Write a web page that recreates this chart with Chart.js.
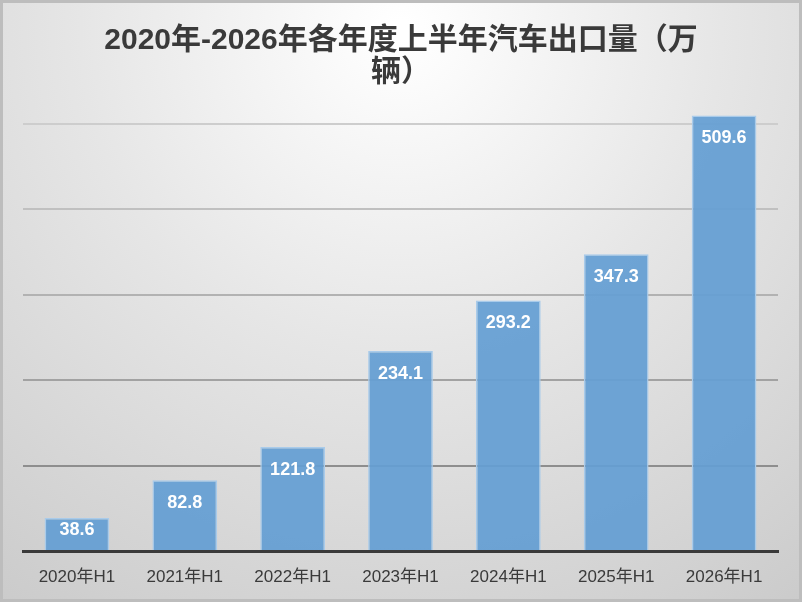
<!DOCTYPE html>
<html>
<head>
<meta charset="utf-8">
<script src="https://cdn.jsdelivr.net/npm/chart.js@4/dist/chart.umd.min.js"></script>
<style>
html,body{margin:0;padding:0;background:#fff;}
#wrap{width:802px;height:602px;}
</style>
</head>
<body>
<div id="wrap"><canvas id="ch" width="802" height="602"></canvas></div>
<script>
/* data */
const labels=['2020年H1','2021年H1','2022年H1','2023年H1','2024年H1','2025年H1','2026年H1'];
const values=[38.6,82.8,121.8,234.1,293.2,347.3,509.6];
const titleLines=['2020年-2026年各年度上半年汽车出口量（万','辆）'];

const FONT='"Liberation Sans","Noto Sans CJK SC",Arial,sans-serif';
const gridCols={100:'#8e8e8e',200:'#a2a2a2',300:'#b2b2b2',400:'#c0c0c0',500:'#cdcdcd'};

const bgPlugin={
    id:'bg',
    beforeDraw(chart){
        const {ctx,width,height}=chart;
        ctx.save();
        const g=ctx.createRadialGradient(width/2,30,10,width/2,30,700);
        g.addColorStop(0,'#ffffff');
        g.addColorStop(0.45,'#e6e6e6');
        g.addColorStop(1,'#cbcbcb');
        ctx.fillStyle=g;
        ctx.fillRect(0,0,width,height);
        ctx.strokeStyle='#bdbdbd';
        ctx.lineWidth=3;
        ctx.strokeRect(1.5,1.5,width-3,height-3);
        ctx.restore();
    },
    afterDraw(chart){
        const {ctx,width}=chart;
        ctx.save();
        ctx.fillStyle='#3a3a3a';
        ctx.font='bold 30px '+FONT;
        ctx.textAlign='center';
        ctx.textBaseline='middle';
        ctx.fillText(titleLines[0],width/2,41);
        ctx.fillText(titleLines[1],width/2,73);
        ctx.restore();
    }
};

const valPlugin={
    id:'vals',
    afterDatasetsDraw(chart){
        const {ctx}=chart;
        const meta=chart.getDatasetMeta(0);
        ctx.save();
        ctx.fillStyle='#ffffff';
        ctx.font='bold 18px '+FONT;
        ctx.textAlign='center';
        ctx.textBaseline='middle';
        meta.data.forEach((bar,i)=>{
            const h=bar.base-bar.y;
            ctx.fillText(values[i].toFixed(1),bar.x,bar.y+Math.min(23,h*0.37));
        });
        ctx.restore();
    }
};

new Chart(document.getElementById('ch').getContext('2d'),{
    type:'bar',
    data:{labels,datasets:[{
        data:values,
        backgroundColor:'rgba(100,158,211,0.93)',
        borderColor:'#a9cbea',
        borderWidth:1.5,
        barPercentage:0.6,
        categoryPercentage:1
    }]},
    options:{
        responsive:false,
        animation:false,
        devicePixelRatio:1,
        layout:{padding:{top:81,left:23,right:24,bottom:4}},
        plugins:{legend:{display:false},tooltip:{enabled:false}},
        scales:{
            x:{
                grid:{display:false,drawTicks:false},
                border:{color:'#3a3a3a',width:3},
                ticks:{color:'#3a3a3a',font:{family:FONT,size:17},padding:16,maxRotation:0},
                afterFit:s=>{s.height=47;}
            },
            y:{
                min:0,max:550,
                ticks:{display:false,stepSize:100},
                border:{display:false},
                grid:{
                    drawTicks:false,
                    lineWidth:2,
                    color:c=>gridCols[c.tick.value]||'transparent'
                }
            }
        }
    },
    plugins:[bgPlugin,valPlugin]
});
</script>
</body>
</html>
